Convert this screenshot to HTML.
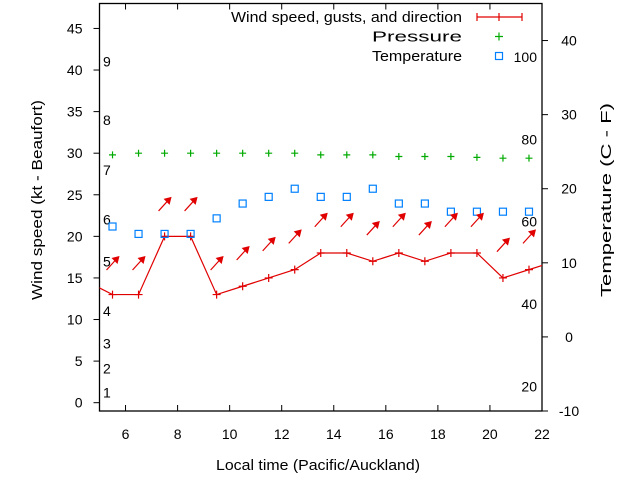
<!DOCTYPE html>
<html><head><meta charset="utf-8"><style>
html,body{margin:0;padding:0;background:#fff;}
svg{display:block;font-family:"Liberation Sans",sans-serif;}
</style></head><body>
<svg id="chart" width="640" height="480" viewBox="0 0 640 480" xmlns="http://www.w3.org/2000/svg">
<rect x="0" y="0" width="640" height="480" fill="#fff"/>
<g id="axes"></g>
<g id="beaufort"></g>
<g id="fahr"></g>
<g id="series"></g>
<g id="legend"></g>
<text x="42" y="200" font-size="15" text-anchor="middle" textLength="200" lengthAdjust="spacingAndGlyphs" transform="rotate(-90 42 200)">Wind speed (kt - Beaufort)</text>
<text x="611" y="200" font-size="15" text-anchor="middle" textLength="194" lengthAdjust="spacingAndGlyphs" transform="rotate(-90 611 200)">Temperature (C - F)</text>
<text x="318" y="470" font-size="15" text-anchor="middle" textLength="204" lengthAdjust="spacingAndGlyphs">Local time (Pacific/Auckland)</text>
</svg>
<script>
const hours=[5.5,6.5,7.5,8.5,9.5,10.5,11.5,12.5,13.5,14.5,15.5,16.5,17.5,18.5,19.5,20.5,21.5];
const wind=[13,13,20,20,13,14,15,16,18,18,17,18,17,18,18,15,16];
const gust=[16.8,16.8,23.9,23.9,16.8,18,19.1,20,22,22,21,22,21,22,22,19,20];
const pressure=[29.8,30,30,30,30,30,30,30,29.8,29.8,29.8,29.6,29.6,29.6,29.5,29.4,29.4];
const tempC=[14.9,13.9,13.9,13.9,16,18,18.9,20,18.9,18.9,20,18,18,16.9,16.9,16.9,16.9];
const xTicks=[6,8,10,12,14,16,18,20,22];
const yTicks=[0,5,10,15,20,25,30,35,40,45];
const y2Ticks=[-10,0,10,20,30,40];
const beaufortLabels=[[1,1.2],[2,4.1],[3,7.1],[4,11],[5,17],[6,22],[7,28],[8,34],[9,41]];
const fahrLabels=[20,40,60,80,100];

const L=99.5,R=542,T=3.5,B=411;
const X=v=>L+(v-5)/(22-5)*(R-L);
const Y=v=>B-(v+1)/(48+1)*(B-T);
const Y2=v=>B-(v+10)/(45+10)*(B-T);
const NS="http://www.w3.org/2000/svg";
function mk(tag,attrs,parent){const e=document.createElementNS(NS,tag);for(const k in attrs)e.setAttribute(k,attrs[k]);parent.appendChild(e);return e;}
const axes=document.getElementById('axes');
let frame=mk('rect',{x:L,y:T,width:R-L,height:B-T,fill:'none',stroke:'#000','stroke-width':1.3},axes);


xTicks.forEach(v=>{
 let t=mk('line',{x1:X(v),x2:X(v),y1:B,y2:B-6,stroke:'#000'},axes);
 
 
 let t2=mk('line',{x1:X(v),x2:X(v),y1:T,y2:T+6,stroke:'#000'},axes);
 
 
 let l=mk('text',{x:X(v),y:439,'font-size':14,'text-anchor':'middle'},axes);l.textContent=v;
 
 
});
yTicks.forEach(v=>{
 let t=mk('line',{x1:L-6,x2:L,y1:Y(v),y2:Y(v),stroke:'#000'},axes);
 
 
 let l=mk('text',{x:L-17,y:Y(v)+5,'font-size':14,'text-anchor':'end'},axes);l.textContent=v;
 
 
});
y2Ticks.forEach(v=>{
 let t=mk('line',{x1:R,x2:R+6,y1:Y2(v),y2:Y2(v),stroke:'#000'},axes);
 
 
 let l=mk('text',{x:R+27,y:Y2(v)+5,'font-size':14,'text-anchor':'middle'},axes);l.textContent=v;
 
 
});
const bf=document.getElementById('beaufort');
beaufortLabels.forEach(b=>{let l=mk('text',{x:103,y:Y(b[1])+5,'font-size':14},bf);l.textContent=b[0];
 
 });
const fh=document.getElementById('fahr');
fahrLabels.forEach(f=>{const c=(f-32)*5/9;let l=mk('text',{x:537,y:Y2(c)+5,'font-size':14,'text-anchor':'end'},fh);l.textContent=f;
 
 });

const s=document.getElementById('series');
const clip=mk('clipPath',{id:'pc'},s);mk('rect',{x:L,y:T,width:R-L,height:B-T},clip);
let pts=hours.map((h,i)=>X(h)+','+Y(wind[i]));
pts.unshift(X(4.5)+','+Y(14.6));pts.push(X(22.5)+','+Y(17));
let wl=mk('polyline',{points:pts.join(' '),fill:'none',stroke:'#e00000','stroke-width':1.2,'clip-path':'url(#pc)'},s);


function plus(x,y,c,sz,name){let p=mk('path',{d:`M${x-sz},${y}h${2*sz}M${x},${y-sz}v${2*sz}`,stroke:c,'stroke-width':1.2},s);
 
 }
hours.forEach((h,i)=>{
 plus(X(h),Y(wind[i]),'#e00000',4,'wind-point');
 plus(X(h),Y(pressure[i]),'#00aa00',3.5,'pressure-point');
 let sq=mk('rect',{x:X(h)-3.5,y:Y2(tempC[i])-3.5,width:7,height:7,fill:'none',stroke:'#0080ff','stroke-width':1.2},s);
 
 
 const cx=X(h),cy=Y(gust[i]);
 let a=mk('path',{d:`M${cx-6},${cy+7}L${cx+4},${cy-4}`,stroke:'#e00000','stroke-width':1.2},s);
 
 
 let ah=mk('path',{d:`M${cx+7},${cy-7}L${cx-1},${cy-5}L${cx+5},${cy+1}Z`,fill:'#e00000'},s);
 
 
});
const lg=document.getElementById('legend');
const items=['Wind speed, gusts, and direction','Pressure','Temperature'];
const itemLens=[231,90,90];
items.forEach((t,i)=>{let l=mk('text',{x:462,y:22+i*19.5,'font-size':15,'text-anchor':'end',textLength:itemLens[i],lengthAdjust:'spacingAndGlyphs'},lg);l.textContent=t;
 
 });
let ll=mk('path',{d:'M477,17H522M477,13v8M522,13v8M499,13v8',stroke:'#e00000','stroke-width':1.2},lg);


let lp=mk('path',{d:'M495,36.5h8M499,32.5v8',stroke:'#00aa00','stroke-width':1.2},lg);


let lt=mk('rect',{x:495.5,y:52.5,width:7,height:7,fill:'none',stroke:'#0080ff','stroke-width':1.2},lg);


</script>
</body></html>
